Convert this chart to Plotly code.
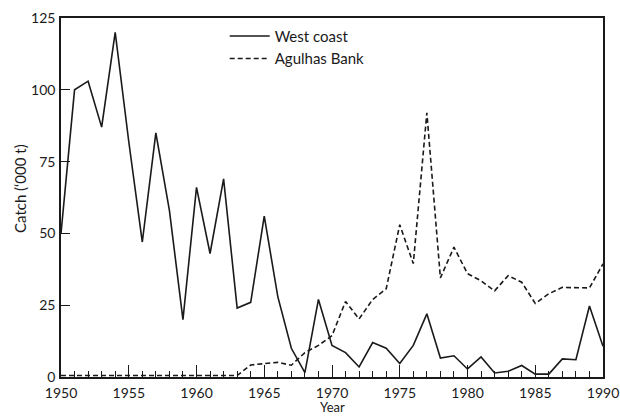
import plotly.graph_objects as go

years = list(range(1950, 1991))
west_coast = [50, 100, 103, 87, 120, 82, 47, 85, 58, 20,
              66, 43, 69, 24, 26, 56, 28, 10, 1.5, 27,
              11, 8.5, 3.5, 12, 10, 4.7, 11, 22, 6.6, 7.4,
              2.8, 7, 1.4, 2, 4, 1, 1, 6.3, 6, 24.7,
              10.7]
agulhas_bank = [0.5, 0.5, 0.5, 0.5, 0.5, 0.5, 0.5, 0.5, 0.5, 0.5,
                0.5, 0.5, 0.5, 0.5, 4.2, 4.7, 5.1, 4.1, 8.5, 11,
                14.4, 26.3, 20.2, 27, 30.7, 53, 39.5, 92, 34.5, 45.2,
                36, 33.5, 30, 35.3, 33, 25.6, 29, 31.2, 31, 31,
                39.4]
x_tick_vals = [1950, 1955, 1960, 1965, 1970, 1975, 1980, 1985, 1990]
y_tick_vals = [0, 25, 50, 75, 100, 125]

FONT = "Lato"
INK = "#1a1a1a"

fig = go.Figure()
fig.add_trace(go.Scatter(x=years, y=west_coast, mode="lines", name="West coast",
                         line=dict(color=INK, width=1.6)))
fig.add_trace(go.Scatter(x=years, y=agulhas_bank, mode="lines", name="Agulhas Bank",
                         line=dict(color=INK, width=1.6, dash="5px,3px")))

fig.update_layout(
    width=620, height=416,
    margin=dict(l=61, r=17, t=18, b=39),
    paper_bgcolor="white", plot_bgcolor="white",
    font=dict(family=FONT, size=14, color=INK),
    showlegend=True,
    legend=dict(x=0.302, y=0.995, xanchor="left", yanchor="top",
                bgcolor="rgba(0,0,0,0)", font=dict(size=15, family=FONT),
                tracegroupgap=0, itemwidth=40),
    xaxis=dict(range=[1950, 1990], tickvals=x_tick_vals, automargin=False,
               ticks="inside", ticklen=12, tickwidth=1.3, tickcolor=INK,
               minor=dict(dtick=1, ticks="inside", ticklen=6, tickwidth=1.2, tickcolor=INK, showgrid=False),
               showline=True, linecolor=INK, linewidth=1.5, mirror=True,
               showgrid=False, zeroline=False, ticklabelstandoff=2,
               tickfont=dict(size=14)),
    yaxis=dict(range=[0, 125], tickvals=y_tick_vals, automargin=False,
               ticks="inside", ticklen=9, tickwidth=1.3, tickcolor=INK,
               showline=True, linecolor=INK, linewidth=1.5, mirror=True,
               showgrid=False, zeroline=False, ticklabelstandoff=1,
               tickfont=dict(size=14)),
    annotations=[
        dict(text="Year", xref="paper", yref="paper", x=0.5, y=-0.1086,
             xanchor="center", yanchor="bottom", showarrow=False, borderpad=0,
             font=dict(size=13, family=FONT, color=INK)),
        dict(text="Catch (\u2018000 t)", xref="paper", yref="paper", x=-0.076, y=0.526,
             xanchor="center", yanchor="middle", textangle=-90, showarrow=False,
             font=dict(size=15, family=FONT, color=INK)),
    ],
)

fig.write_html("out.html")
